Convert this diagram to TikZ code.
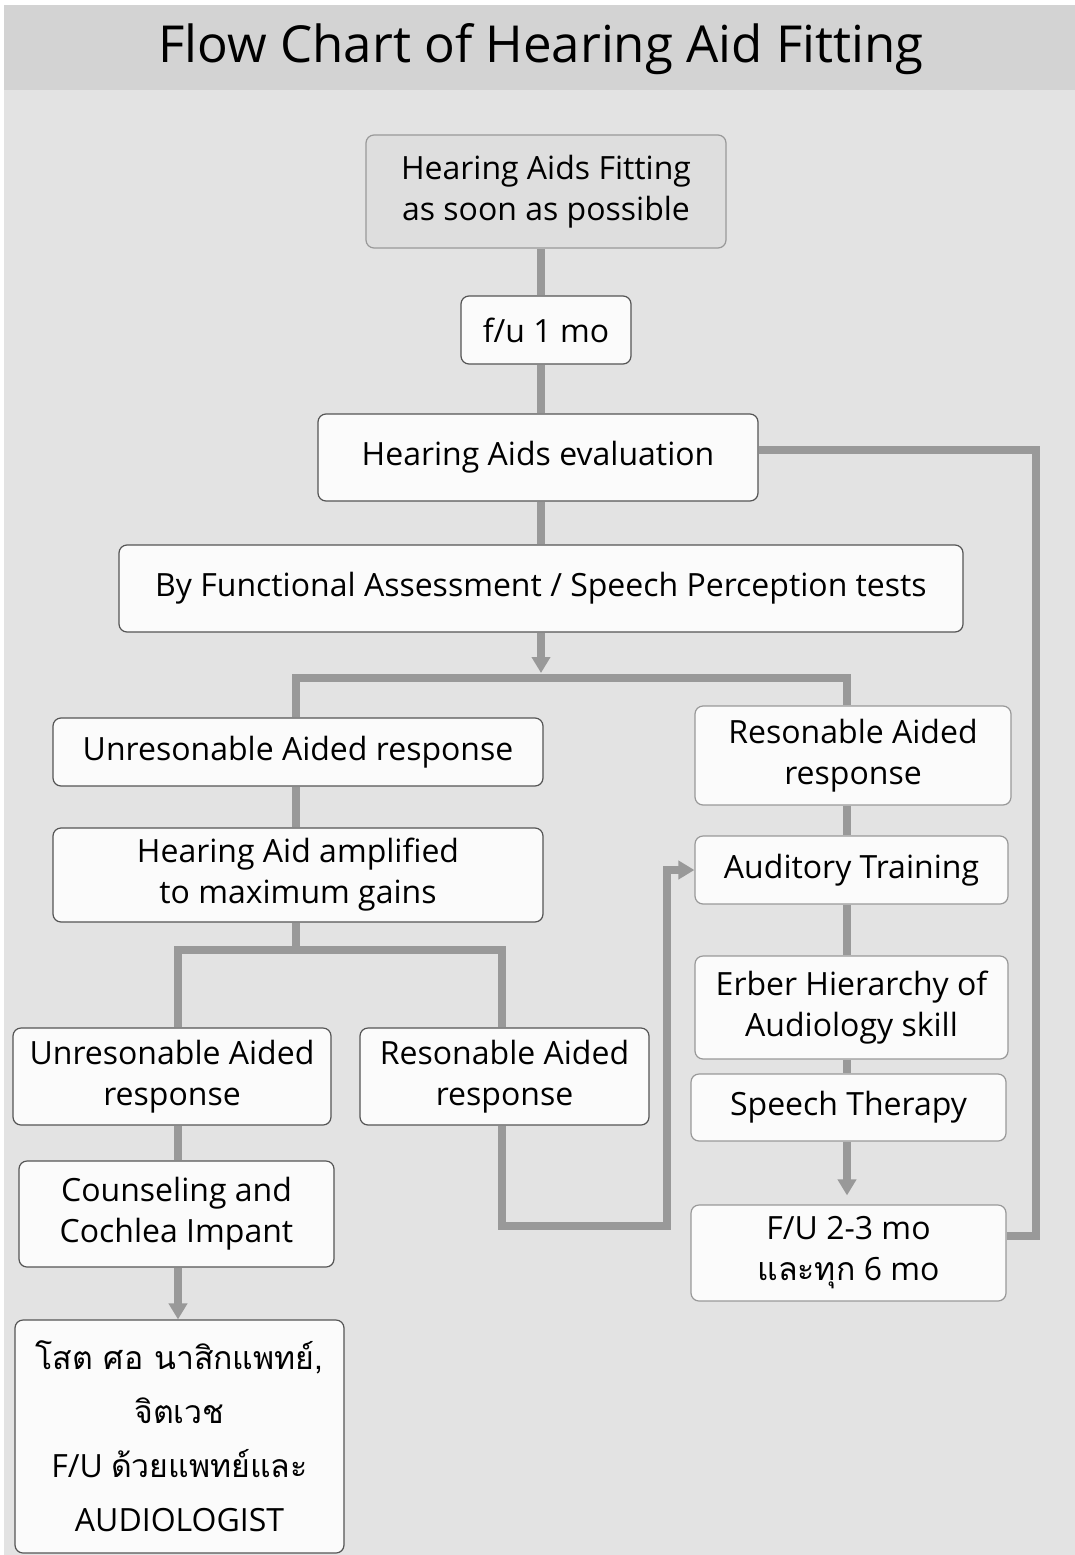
\documentclass[tikz,border=0pt]{standalone}
\usepackage{fontspec}
\setmainfont{Open Sans}
\newfontfamily\thai[Script=Thai]{Loma}
\usetikzlibrary{arrows.meta,positioning}
\pgfdeclarelayer{bg}
\pgfdeclarelayer{background}
\pgfsetlayers{bg,background,main}
\definecolor{bgc}{HTML}{E3E3E3}
\definecolor{titlec}{HTML}{D3D3D3}
\definecolor{boxc}{HTML}{FBFBFB}
\definecolor{topc}{HTML}{DEDEDE}
\definecolor{linec}{HTML}{999999}
\definecolor{edgec}{HTML}{555555}
\tikzset{
  box/.style={draw=edgec, line width=1.2pt, fill=boxc, rounded corners=8pt, align=center, inner sep=0pt,
    font=\fontsize{32}{41}\selectfont},
  conn/.style={draw=linec, line width=8pt},
  arr/.style={-{Triangle[width=18pt,length=16pt]}},
}
\begin{document}
\begin{tikzpicture}[x=1pt,y=-1pt]
\useasboundingbox (0,0) rectangle (1075,1555);
\begin{pgfonlayer}{bg}
\fill[white] (0,0) rectangle (1075,1555);
\fill[bgc] (4,5) rectangle (1075,1555);
\fill[titlec] (4,5) rectangle (1075,90);
\end{pgfonlayer}
\node[font=\fontsize{51}{53}\selectfont] (title) at (541,49) {Flow Chart of Hearing Aid Fitting};

\node[box, fill=topc, draw=linec, minimum width=360pt, minimum height=113pt] (top) at (546,191.5) {Hearing Aids Fitting\\as soon as possible};
\node[box, minimum width=170pt, minimum height=68pt] (fu1) at (546,330) {f/u 1 mo};
\node[box, minimum width=440pt, minimum height=87pt] (eval) at (538,457.5) {Hearing Aids evaluation};
\node[box, minimum width=844pt, minimum height=87pt] (func) at (541,588.5) {By Functional Assessment / Speech Perception tests};
\node[box, minimum width=490pt, minimum height=68pt] (unres1) at (298,752) {Unresonable Aided response};
\node[box, minimum width=490pt, minimum height=94pt] (amp) at (298,875) {Hearing Aid amplified\\to maximum gains};
\node[box, minimum width=318pt, minimum height=97pt] (unres2) at (172,1076.5) {Unresonable Aided\\response};
\node[box, minimum width=289pt, minimum height=97pt] (res2) at (504.5,1076.5) {Resonable Aided\\response};
\node[box, minimum width=315pt, minimum height=106pt] (couns) at (176.5,1214) {Counseling and\\Cochlea Impant};
\node[box, minimum width=329pt, minimum height=233pt, font=\fontsize{32}{54}\selectfont] (thaibox) at (179.5,1436.5)
  {{\thai โสต ศอ นาสิกแพทย์,}\\{\thai จิตเวช}\\F/U {\thai ด้วยแพทย์และ}\\AUDIOLOGIST};
\node[box, draw=linec, minimum width=316pt, minimum height=99pt] (res1) at (853,755.5) {Resonable Aided\\response};
\node[box, draw=linec, minimum width=313pt, minimum height=68pt] (aud) at (851.5,870) {Auditory Training};
\node[box, draw=linec, minimum width=313pt, minimum height=103pt] (erber) at (851.5,1007.5) {Erber Hierarchy of\\Audiology skill};
\node[box, draw=linec, minimum width=315pt, minimum height=67pt] (speech) at (848.5,1107.5) {Speech Therapy};
\node[box, draw=linec, minimum width=315pt, minimum height=96pt] (fu23) at (848.5,1253) {F/U 2-3 mo\\{\thai และทุก} 6 mo};

\coordinate (sp) at (541,0);
\coordinate (bar) at (0,678);
\coordinate (xl) at (296,0);
\coordinate (xr) at (847,0);
\coordinate (b2) at (298,950);
\coordinate (xa) at (178,0);
\coordinate (xb) at (502,0);
\coordinate (k1) at (667,1226);
\coordinate (rt) at (1036,450);
\coordinate (tipA) at (541,673);

\begin{pgfonlayer}{background}
\draw[conn] (top.south -| sp) -- (fu1.north -| sp);
\draw[conn] (fu1.south -| sp) -- (eval.north -| sp);
\draw[conn] (eval.south -| sp) -- (func.north -| sp);
\draw[conn, arr] (func.south -| sp) -- (tipA);
\draw[conn] (unres1.north -| xl) |- (bar -| xr) -- (res1.north -| xr);
\draw[conn] (unres1.south -| xl) -- (amp.north -| xl);
\draw[conn] (amp.south -| xl) -- (b2 -| xl);
\draw[conn] (unres2.north -| xa) |- (b2) -| (res2.north -| xb);
\draw[conn] (unres2.south -| xa) -- (couns.north -| xa);
\draw[conn, arr] (couns.south -| xa) -- (thaibox.north -| xa);
\draw[conn, arr] (res2.south -| xb) |- (k1) |- (aud.west);
\draw[conn] (res1.south -| xr) -- (aud.north -| xr);
\draw[conn] (aud.south -| xr) -- (erber.north -| xr);
\draw[conn] (erber.south -| xr) -- (speech.north -| xr);
\draw[conn, arr] (speech.south -| xr) -- ([yshift=9pt]fu23.north -| xr);
\draw[conn] ([yshift=17pt]fu23.east) -| (rt) -- (eval.east |- rt);
\end{pgfonlayer}
\end{tikzpicture}
\end{document}
